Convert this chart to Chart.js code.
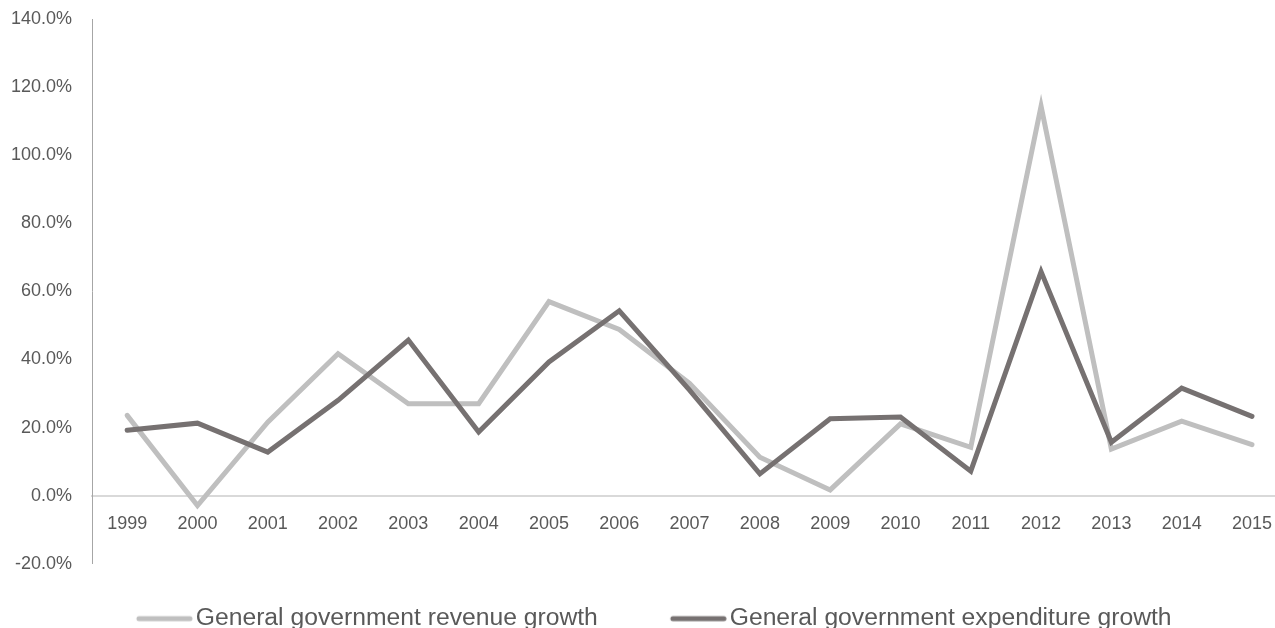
<!DOCTYPE html>
<html>
<head>
<meta charset="utf-8">
<script src="https://cdn.jsdelivr.net/npm/chart.js@4/dist/chart.umd.min.js"></script>
<style>
    html, body { margin: 0; padding: 0; background: #fff; overflow: hidden; }
    #wrap { width: 1302px; height: 641px; margin-left: -12px; }
</style>
</head>
<body>
<div id="wrap"><canvas id="growthChart"></canvas></div>
<script>
const years = ['1999', '2000', '2001', '2002', '2003', '2004', '2005', '2006', '2007',
               '2008', '2009', '2010', '2011', '2012', '2013', '2014', '2015'];
const revenueGrowth = [23.6, -2.9, 21.6, 41.7, 27.0, 27.0, 57.0, 48.8, 33.0,
                       11.3, 1.7, 21.1, 14.2, 114.4, 13.7, 21.9, 15.0];
const expenditureGrowth = [19.2, 21.3, 12.8, 28.0, 45.7, 18.7, 39.3, 54.3, 31.0,
                           6.4, 22.6, 23.1, 7.2, 65.8, 15.7, 31.6, 23.3];
const yTicks = [-20, 0, 20, 40, 60, 80, 100, 120, 140];

const fontFamily = '"Liberation Sans", Arial, sans-serif';
const textColor = '#595959';
const legendFontSize = 24.7;
const legendBoxWidth = 77;

// legend marker: a short thick line sitting right against the label text
function legendMark(color) {
    const gap = legendFontSize / 2 - 3;
    const c = document.createElement('canvas');
    c.width = Math.round(legendBoxWidth + 2 * gap);
    c.height = 8;
    const g = c.getContext('2d');
    g.strokeStyle = color;
    g.lineWidth = 5;
    g.lineCap = 'round';
    g.beginPath();
    g.moveTo(c.width - 54, 4);
    g.lineTo(c.width - 3, 4);
    g.stroke();
    return c;
}

const ctx = document.getElementById('growthChart').getContext('2d');
new Chart(ctx, {
    type: 'line',
    data: {
        labels: years,
        datasets: [{
            label: 'General government revenue growth',
            data: revenueGrowth,
            borderColor: '#bfbfbf',
            backgroundColor: '#bfbfbf',
            borderWidth: 5,
            pointStyle: legendMark('#bfbfbf'),
            order: 1
        }, {
            label: 'General government expenditure growth',
            data: expenditureGrowth,
            borderColor: '#767171',
            backgroundColor: '#767171',
            borderWidth: 5,
            pointStyle: legendMark('#767171'),
            order: 0
        }]
    },
    options: {
        responsive: true,
        maintainAspectRatio: false,
        animation: false,
        elements: {
            point: { radius: 0, hoverRadius: 0 },
            line: { tension: 0, borderCapStyle: 'round', borderJoinStyle: 'miter' }
        },
        layout: { padding: { top: 19, bottom: 0, left: 0, right: 0 } },
        plugins: {
            tooltip: { enabled: false },
            legend: {
                position: 'bottom',
                labels: {
                    sort: (a, b) => a.datasetIndex - b.datasetIndex,
                    usePointStyle: true,
                    pointStyleWidth: legendBoxWidth,
                    padding: 42.5,
                    color: textColor,
                    font: { family: fontFamily, size: legendFontSize }
                }
            }
        },
        scales: {
            x: {
                position: { y: 0 },
                offset: true,
                grid: { display: false, drawTicks: false },
                border: { color: '#d9d9d9', width: 2 },
                ticks: {
                    padding: 18,
                    color: textColor,
                    maxRotation: 0,
                    font: { family: fontFamily, size: 18 }
                }
            },
            y: {
                min: -20,
                max: 140,
                afterBuildTicks: scale => { scale.ticks = yTicks.map(v => ({ value: v })); },
                afterFit: scale => {
                    scale.width = 104;
                    scale.paddingTop = 9;
                    scale.paddingBottom = 9;
                },
                grid: { display: false, drawTicks: false },
                border: { color: '#a6a6a6', width: 1 },
                ticks: {
                    padding: 20,
                    color: textColor,
                    font: { family: fontFamily, size: 18 },
                    callback: v => v.toFixed(1) + '%'
                }
            }
        }
    }
});
</script>
</body>
</html>
